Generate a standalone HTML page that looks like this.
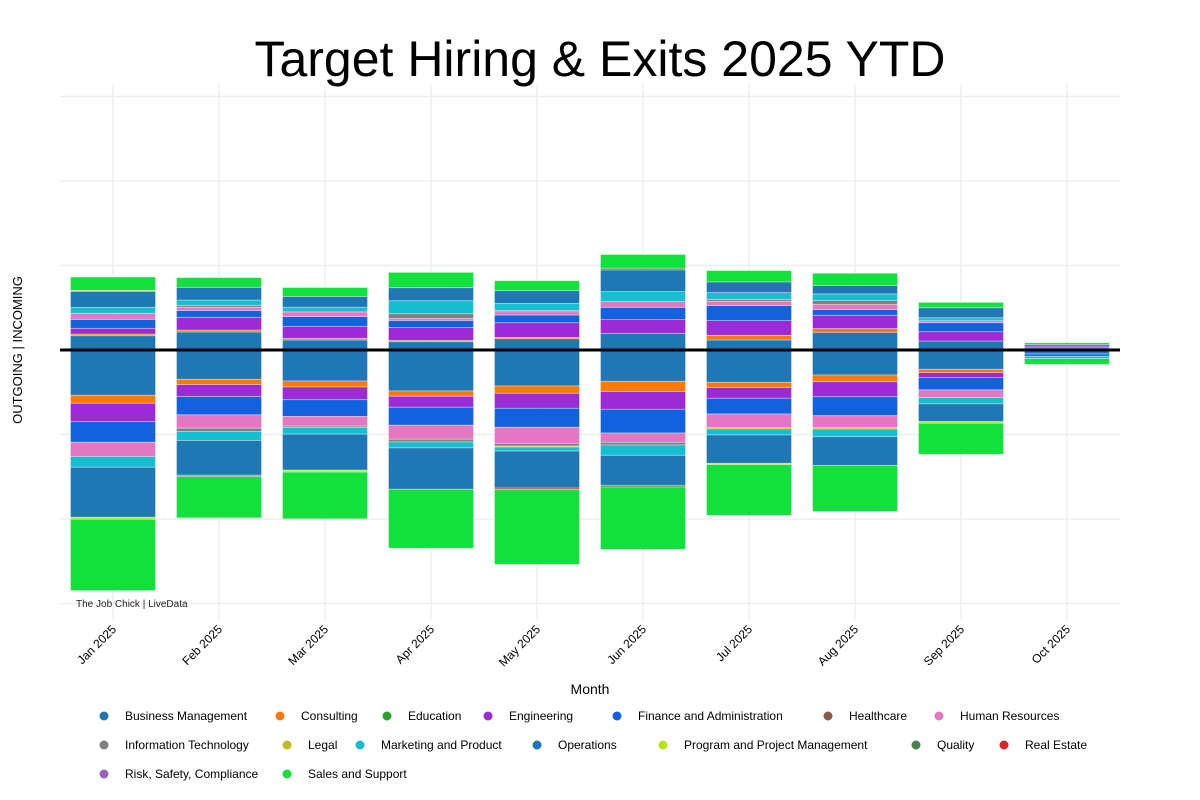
<!DOCTYPE html>
<html><head><meta charset="utf-8"><style>
body{margin:0;background:#fff;}
svg{display:block;font-family:"Liberation Sans",Arial,sans-serif;}
</style></head><body>
<svg id="chart" width="1200" height="800">
<text x="600" y="76" text-anchor="middle" font-size="50" fill="#000">Target Hiring &amp; Exits 2025 YTD</text>
<g id="grid"></g>
<g id="bars"></g>
<line x1="60" x2="1120" y1="350" y2="350" stroke="#000" stroke-width="3"/>
<text x="76" y="607" font-size="10" fill="#222">The Job Chick | LiveData</text>
<g id="xticks"></g>
<text x="590" y="694" text-anchor="middle" font-size="14" fill="#000">Month</text>
<text transform="translate(22,350) rotate(-90)" text-anchor="middle" font-size="13" fill="#000">OUTGOING | INCOMING</text>
<g id="legend"></g>
</svg>
<script>
const months = ["Jan 2025","Feb 2025","Mar 2025","Apr 2025","May 2025","Jun 2025","Jul 2025","Aug 2025","Sep 2025","Oct 2025"];
const categories = ["Business Management","Consulting","Education","Engineering","Finance and Administration","Healthcare","Human Resources","Information Technology","Legal","Marketing and Product","Operations","Program and Project Management","Quality","Real Estate","Risk, Safety, Compliance","Sales and Support"];
const colors = ["#1f77b4","#f97a06","#2ca02c","#9c2ad6","#1262de","#8c564b","#e377c2","#7f7f7f","#bcbd22","#17becf","#1f77b4","#b5e61d","#4c7f4c","#d62728","#9467bd","#13e03c"];
const yTicks = [-60,-40,-20,0,20,40,60];

// incoming (hires) per category, per month
const inBusiness   = [3.38,4.26,2.37,1.96,2.67,3.95,2.37,4.19,2.13,0.52];
const inConsulting = [0.40,0.47,0.40,0.31,0.31,0,1.11,0.88,0,0];
const inEducation  = [0,0,0,0,0,0,0,0,0,0];
const inEngineering= [1.35,3.01,2.84,3.08,3.48,3.24,3.48,3.15,2.20,0.40];
const inFinance    = [2.13,1.59,2.30,1.66,1.82,2.91,3.55,1.35,2.13,0];
const inHealthcare = [0,0,0,0,0,0,0,0,0,0];
const inHR         = [1.42,0.78,1.11,0.47,0.78,1.35,1.02,1.25,0.47,0];
const inIT         = [0,0.47,0,1.11,0.31,0,0.47,0.88,0,0];
const inLegal      = [0,0,0,0,0,0,0,0,0,0];
const inMarketing  = [1.42,1.25,1.11,3.08,1.66,2.37,1.59,1.59,0.71,0];
const inOperations = [3.79,3.01,2.53,3.08,3.01,5.14,2.53,1.96,2.37,0.40];
const inPPM        = [0.24,0,0,0,0,0,0,0,0,0];
const inQuality    = [0,0,0,0,0,0.40,0,0,0,0];
const inRealEstate = [0,0,0,0,0,0,0,0,0,0];
const inRisk       = [0,0,0,0,0,0,0,0,0,0];
const inSales      = [3.15,2.30,2.13,3.62,2.37,3.24,2.67,2.91,1.25,0.40];

// outgoing (exits) per category, per month
const outBusiness   = [10.72,6.94,7.34,9.70,8.52,7.41,7.65,5.92,4.57,0.95];
const outConsulting = [1.89,1.25,1.42,1.25,1.73,2.44,1.25,1.59,0.78,0];
const outEducation  = [0,0,0,0,0,0,0,0,0,0];
const outEngineering= [4.33,2.84,3.01,2.60,3.55,4.19,2.53,3.55,1.18,0];
const outFinance    = [4.90,4.33,3.95,4.26,4.50,5.61,3.72,4.50,2.91,0.54];
const outHealthcare = [0,0,0,0,0,0,0,0,0,0];
const outHR         = [3.38,3.15,2.30,3.31,3.79,2.20,3.24,2.84,1.82,0];
const outIT         = [0,0.78,0.31,0.64,0.64,0.64,0,0,0,0];
const outLegal      = [0,0,0,0,0.24,0,0.31,0.31,0,0];
const outMarketing  = [2.53,2.13,1.59,1.42,0.95,2.44,1.42,1.82,1.49,0.54];
const outOperations = [11.84,8.21,8.52,9.78,8.76,7.10,6.70,6.79,4.19,0];
const outPPM        = [0.47,0,0.47,0,0,0,0.31,0,0.40,0];
const outQuality    = [0,0,0,0,0,0.40,0,0,0,0];
const outRealEstate = [0,0,0,0,0.31,0,0,0,0,0];
const outRisk       = [0,0.31,0,0,0,0,0,0,0,0];
const outSales      = [16.88,9.78,11.05,13.96,17.75,14.75,12.0,10.89,7.34,1.35];

const incoming = [inBusiness,inConsulting,inEducation,inEngineering,inFinance,inHealthcare,inHR,inIT,inLegal,inMarketing,inOperations,inPPM,inQuality,inRealEstate,inRisk,inSales];
const outgoing = [outBusiness,outConsulting,outEducation,outEngineering,outFinance,outHealthcare,outHR,outIT,outLegal,outMarketing,outOperations,outPPM,outQuality,outRealEstate,outRisk,outSales];

const NS = "http://www.w3.org/2000/svg";
const plotL = 60, plotR = 1120, plotT = 85, plotB = 620;
const x0 = 113, step = 106, barW = 85;
function xScale(i){ return x0 + i*step; }
function yScale(v){ return 350 - v*4.225; }

const grid = document.getElementById('grid');
months.forEach((m,i)=>{
  const l = document.createElementNS(NS,'line');
  l.setAttribute('x1',xScale(i)); l.setAttribute('x2',xScale(i));
  l.setAttribute('y1',plotT); l.setAttribute('y2',plotB);
  l.setAttribute('stroke','#eeeeee'); l.setAttribute('stroke-width','1.5');
  
  
  grid.appendChild(l);
});
yTicks.forEach(t=>{
  const l = document.createElementNS(NS,'line');
  l.setAttribute('x1',plotL); l.setAttribute('x2',plotR);
  l.setAttribute('y1',yScale(t)); l.setAttribute('y2',yScale(t));
  l.setAttribute('stroke','#eeeeee'); l.setAttribute('stroke-width','1.5');
  
  
  grid.appendChild(l);
});

const bars = document.getElementById('bars');
function seg(i,c,a,b,kind){
  if(Math.abs(b-a) < 1e-9) return;
  const r = document.createElementNS(NS,'rect');
  const y1 = yScale(Math.max(a,b)), y2 = yScale(Math.min(a,b));
  r.setAttribute('x', xScale(i)-barW/2);
  r.setAttribute('y', y1);
  r.setAttribute('width', barW);
  r.setAttribute('height', y2-y1);
  r.setAttribute('fill', colors[c]);
  r.setAttribute('stroke','rgba(255,255,255,0.45)');
  r.setAttribute('stroke-width','0.8');
  
  
  bars.appendChild(r);
}
months.forEach((m,i)=>{
  let up = 0, down = 0;
  categories.forEach((c,k)=>{
    const v = incoming[k][i];
    seg(i,k,up,up+v,'incoming-bar-segment'); up += v;
    const w = outgoing[k][i];
    seg(i,k,down,down-w,'outgoing-bar-segment'); down -= w;
  });
});

const xt = document.getElementById('xticks');
months.forEach((m,i)=>{
  const t = document.createElementNS(NS,'text');
  const x = xScale(i)+4, y = 630;
  t.setAttribute('x',x); t.setAttribute('y',y);
  t.setAttribute('text-anchor','end');
  t.setAttribute('font-size','12');
  t.setAttribute('transform','rotate(-45 '+x+' '+y+')');
  t.textContent = m;
  
  
  xt.appendChild(t);
});

const legendPos = [[104,716],[280,716],[387,716],[488,716],[617,716],[828,716],[939,716],
 [104,745],[287,745],[360,745],[537,745],[663,745],[916,745],[1004,745],
 [104,774],[287,774]];
const legendCats = [0,1,2,3,4,5,6,7,8,9,10,11,12,13,14,15];
const lg = document.getElementById('legend');
legendCats.forEach((k,j)=>{
  const g = document.createElementNS(NS,'g');
  
  
  const [cx,cy] = legendPos[j];
  const c = document.createElementNS(NS,'circle');
  c.setAttribute('cx',cx); c.setAttribute('cy',cy); c.setAttribute('r',4.5);
  c.setAttribute('fill',colors[k]);
  
  
  const t = document.createElementNS(NS,'text');
  t.setAttribute('x',cx+21); t.setAttribute('y',cy+4);
  t.setAttribute('font-size','12'); t.setAttribute('fill','#000');
  t.textContent = categories[k];
  
  
  g.appendChild(c); g.appendChild(t); lg.appendChild(g);
});
</script>
</body></html>
